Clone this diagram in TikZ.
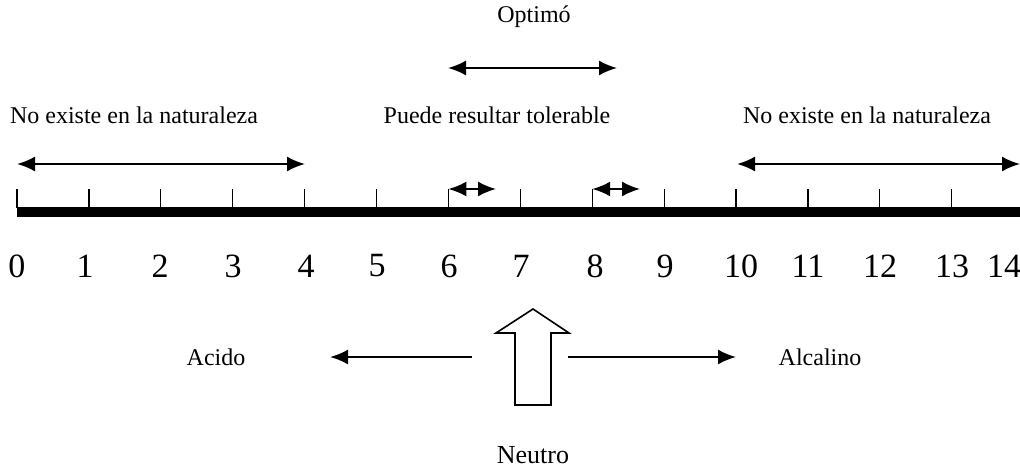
\documentclass[tikz,border=0pt]{standalone}
\usepackage{fontspec}
\setmainfont{Liberation Serif}
\usetikzlibrary{arrows.meta}

\tikzset{
  flecha/.style={line width=1pt,{Latex[length=9pt,width=7.5pt]}-{Latex[length=9pt,width=7.5pt]}},
  flechauna/.style={line width=1pt,-{Latex[length=9pt,width=7.5pt]}},
  rotulo/.style={font=\fontsize{12}{14}\selectfont},
  numero/.style={font=\fontsize{17}{19}\selectfont}
}

\begin{document}
\begin{tikzpicture}[x=0.5pt,y=-0.5pt]
    \useasboundingbox (0,0) rectangle (1020,466);
    % escala de pH
    \draw[line width=5pt] (17,212) -- (1020,212);
    \foreach \n in {0,...,13}{
      \coordinate (t\n) at ({17+71.9*\n},189);
      \draw[line width=0.6pt] (t\n) -- ({17+71.9*\n},208);
    }
    \foreach \n/\x in {0/17,1/85,2/160,3/233,4/306,5/377,6/449,7/521,8/595,9/665,10/741,11/808,12/880,13/952,14/1004}
      {\node[numero] (n\n) at (\x,266) {\n};}
    % rangos
    \node[rotulo] (optimo) at (534,17) {Optimó};
    \node[rotulo] (noizq) at (134,115) {No existe en la naturaleza};
    \node[rotulo] (tolerable) at (497,115) {Puede resultar tolerable};
    \node[rotulo] (noder) at (867,115) {No existe en la naturaleza};
    \coordinate (a0) at (17,164);   \coordinate (a4) at (305,164);
    \coordinate (a10) at (737,164); \coordinate (a14) at (1020,164);
    \coordinate (o6) at (448,68);   \coordinate (o8) at (617,68);
    \coordinate (s6) at (496,189);  \coordinate (s8) at (640,189);
    \draw[flecha] (a0) -- (a4);
    \draw[flecha] (a10) -- (a14);
    \draw[flecha] (o6) -- (o8);
    \draw[flecha] (t6) -- (s6);
    \draw[flecha] (t8) -- (s8);
    % acido / neutro / alcalino
    \node[rotulo] (acido) at (216,357) {Acido};
    \node[rotulo] (alcalino) at (820,357) {Alcalino};
    \node[rotulo,font=\fontsize{13}{15}\selectfont] (neutro) at (533,455) {Neutro};
    \coordinate (ci) at (472,357); \coordinate (cd) at (568,357);
    \draw[flechauna] (ci) -- (330,357);
    \draw[flechauna] (cd) -- (736,357);
    \draw[line width=0.8pt] (533,309) -- (569,333) -- (551,333) -- (551,405)
      -- (515,405) -- (515,333) -- (496,333) -- cycle;
\end{tikzpicture}
\end{document}
